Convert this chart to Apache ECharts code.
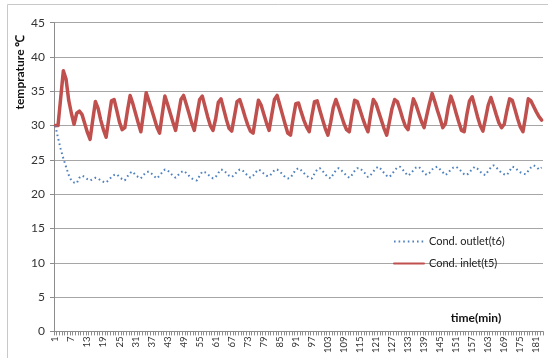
<!DOCTYPE html>
<html>
<head>
<meta charset="utf-8">
<script src="https://cdn.jsdelivr.net/npm/echarts@6/dist/echarts.min.js"></script>
<style>html,body{margin:0;padding:0;background:#fff}#c{width:548px;height:358px}</style>
</head>
<body>
<div id="c"></div>
<script>
var minutes = [1,2,3,4,5,6,7,8,9,10,11,12,13,14,15,16,17,18,19,20,21,22,23,24,25,26,27,28,29,30,31,32,33,34,35,36,37,38,39,40,41,42,43,44,45,46,47,48,49,50,51,52,53,54,55,56,57,58,59,60,61,62,63,64,65,66,67,68,69,70,71,72,73,74,75,76,77,78,79,80,81,82,83,84,85,86,87,88,89,90,91,92,93,94,95,96,97,98,99,100,101,102,103,104,105,106,107,108,109,110,111,112,113,114,115,116,117,118,119,120,121,122,123,124,125,126,127,128,129,130,131,132,133,134,135,136,137,138,139,140,141,142,143,144,145,146,147,148,149,150,151,152,153,154,155,156,157,158,159,160,161,162,163,164,165,166,167,168,169,170,171,172,173,174,175,176,177,178,179,180,181,182,183];

var outletT6 = [30,28.2,26.6,25.2,24.0,22.8,22.0,21.7,21.6,22.4,22.7,22.5,22.2,22.0,22.2,22.4,22.3,22.0,21.8,21.7,
22.1,22.5,22.8,22.9,22.5,22.2,22.0,22.6,23.1,23.3,22.8,22.5,22.3,22.8,23.2,23.3,23.0,22.6,22.3,22.7,
23.2,23.6,23.5,23.1,22.7,22.4,22.8,23.2,23.4,23.1,22.7,22.3,22.1,22.0,22.7,23.3,23.2,22.9,22.6,22.3,
22.5,23.1,23.6,23.5,23.1,22.7,22.5,22.8,23.3,23.6,23.5,23.1,22.7,22.4,22.7,23.2,23.6,23.4,23.0,22.7,
22.6,23.0,23.5,23.6,23.3,22.9,22.5,22.3,22.4,23.0,23.6,23.8,23.5,23.1,22.7,22.4,22.3,23.0,23.6,23.8,
23.4,22.9,22.5,22.3,22.9,23.5,23.8,23.5,23.1,22.7,22.4,22.8,23.4,23.8,23.8,23.4,23.0,22.5,22.8,23.3,
23.8,24.0,23.6,23.1,22.7,22.5,22.9,23.5,23.9,24.0,23.6,23.1,22.7,23.0,23.5,23.9,24.0,23.6,23.1,22.8,
23.1,23.6,23.9,24.0,23.6,23.2,22.8,23.1,23.6,23.9,24.0,23.7,23.3,22.9,22.8,23.2,23.7,24.0,23.7,23.3,
22.9,22.8,23.4,23.9,24.2,23.9,23.5,23.1,22.9,22.8,23.4,24.0,23.9,23.5,23.2,23.0,22.9,23.4,23.9,24.2,
24.0,23.6,23.9];

var inletT5 = [30,30,34,38,36.8,33.7,31.8,30.2,31.8,32.1,31.6,30.3,29.0,28.0,30.8,33.5,32.5,30.8,29.4,28.3,
31.0,33.6,33.8,32.2,30.5,29.4,29.7,32.2,34.4,33.2,31.8,30.4,29.1,31.8,34.8,33.6,32.4,31.1,29.8,28.9,
31.6,34.3,33.1,31.8,30.5,29.3,31.5,33.8,34.4,33.1,31.8,30.4,29.3,31.6,33.8,34.3,32.8,31.3,30.0,29.3,
31.0,33.4,33.9,32.4,30.9,29.6,29.2,31.3,33.5,33.8,32.6,31.3,30.1,29.2,28.9,31.3,33.7,33.0,31.7,30.4,
29.3,31.6,33.8,34.4,33.0,31.6,30.2,28.9,28.6,31.0,33.2,33.3,32.0,30.8,29.8,29.1,31.4,33.5,33.6,32.2,
30.9,29.6,28.6,30.4,32.6,33.8,32.7,31.5,30.3,29.4,29.1,31.5,33.7,33.5,32.3,31.1,30.0,29.1,31.6,33.8,
33.2,32.0,30.8,29.6,28.6,30.5,32.5,33.8,33.5,32.3,31.0,29.9,29.4,31.8,33.9,33.0,31.8,30.6,29.7,31.5,
33.2,34.7,33.5,32.2,31.0,29.7,30.3,32.6,34.3,33.2,31.8,30.5,29.3,29.1,31.6,33.6,34.2,32.8,31.3,30.0,
29.2,31.0,33.0,34.1,32.9,31.6,30.4,29.7,30.2,32.2,33.9,33.7,32.4,31.0,29.8,29.1,31.4,33.9,33.6,32.8,
32.0,31.3,30.8];

var seriesNames = ['Cond. outlet(t6)', 'Cond. inlet(t5)'];
var yTicks = [0,5,10,15,20,25,30,35,40,45];

var FONT = 'Lato, "Open Sans", sans-serif';
var chart = echarts.init(document.getElementById('c'), null, {renderer: 'canvas'});
chart.setOption({
  animation: false,
  backgroundColor: '#fff',
  textStyle: {fontFamily: FONT},
  grid: {left: 54, right: 5, top: 22.7, bottom: 26.6, containLabel: false},
  xAxis: {
    type: 'category',
    data: minutes,
    boundaryGap: true,
    axisLine: {lineStyle: {color: '#8c8c8c', width: 1}},
    axisTick: {show: true, interval: 0, length: 4, lineStyle: {color: '#8c8c8c'}},
    axisLabel: {interval: 5, rotate: 90, fontSize: 9.5, color: '#333', fontFamily: FONT, margin: 5},
    splitLine: {show: false}
  },
  yAxis: {
    type: 'value',
    min: yTicks[0],
    max: yTicks[yTicks.length - 1],
    interval: 5,
    axisLine: {show: true, lineStyle: {color: '#8c8c8c', width: 1}},
    axisTick: {show: true, length: 4, lineStyle: {color: '#8c8c8c'}},
    axisLabel: {fontSize: 12, color: '#333', fontFamily: FONT, margin: 9},
    splitLine: {lineStyle: {color: '#a6a6a6', width: 1}}
  },
  legend: {
    orient: 'vertical',
    left: 388,
    top: 231,
    itemWidth: 30,
    itemHeight: 10,
    itemGap: 11,
    itemStyle: {opacity: 0},
    textStyle: {fontSize: 11, color: '#222', fontFamily: FONT},
    data: seriesNames
  },
  series: [
    {
      name: seriesNames[0],
      type: 'line',
      data: outletT6,
      symbol: 'none',
      smooth: false,
      lineStyle: {color: '#4F81BD', width: 2, type: [1.6, 3], cap: 'butt'},
      itemStyle: {color: '#4F81BD'},
      z: 3
    },
    {
      name: seriesNames[1],
      type: 'line',
      data: inletT5,
      symbol: 'none',
      smooth: false,
      lineStyle: {color: '#C0504D', width: 3.5, cap: 'round', join: 'round'},
      itemStyle: {color: '#C0504D'},
      z: 2
    }
  ],
  graphic: [
    {type: 'rect', shape: {x: 7.5, y: 4.5, width: 600, height: 400}, style: {fill: 'none', stroke: '#c8c8c8', lineWidth: 1}, silent: true, z: -1},
    {type: 'text', x: 20, y: 72, rotation: Math.PI / 2, style: {text: 'temprature ℃', font: 'bold 12px ' + FONT, fill: '#111', textAlign: 'center', textVerticalAlign: 'middle'}},
    {type: 'text', x: 476, y: 318, style: {text: 'time(min)', font: 'bold 12px ' + FONT, fill: '#111', textAlign: 'center', textVerticalAlign: 'middle'}}
  ]
});
</script>
</body>
</html>
